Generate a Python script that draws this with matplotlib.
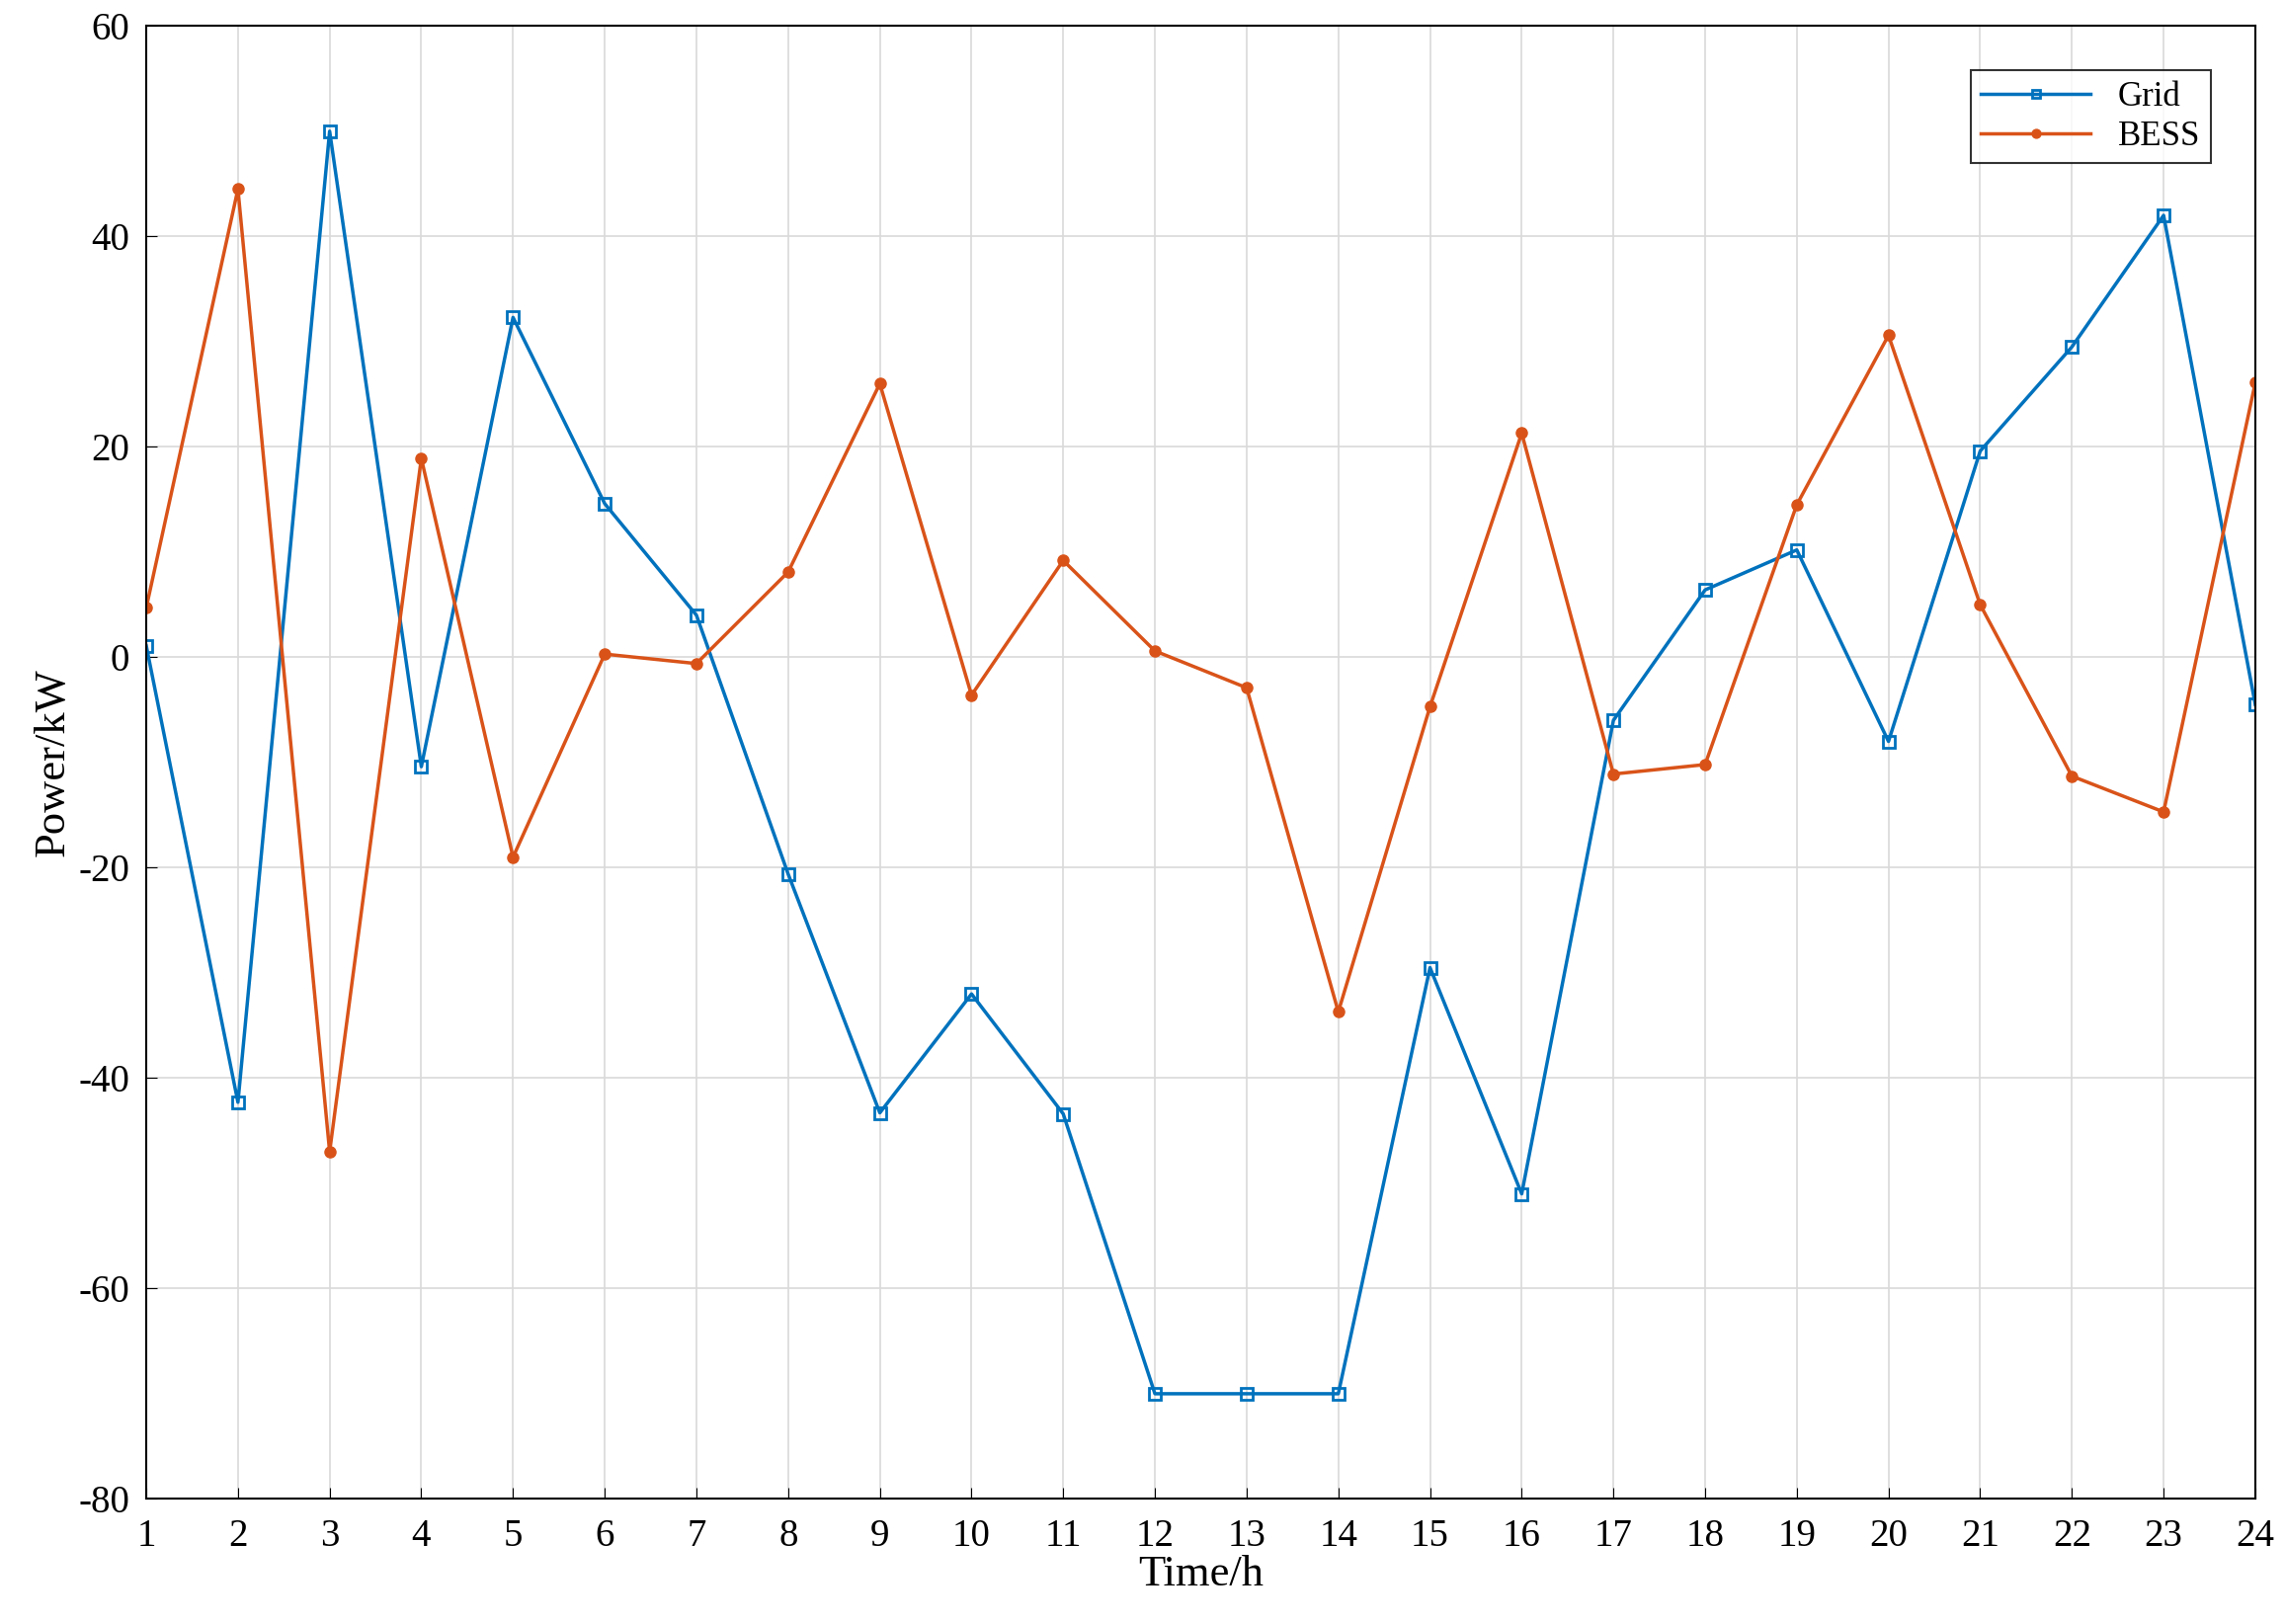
import matplotlib
matplotlib.use("Agg")
import matplotlib.pyplot as plt

hours = list(range(1, 25))
grid = [1.1, -42.3, 50, -10.4, 32.3, 14.6, 4, -20.6, -43.3, -32, -43.4, -70, -70, -70,
        -29.5, -51, -6, 6.4, 10.2, -8, 19.6, 29.5, 42, -4.5]
bess = [4.7, 44.5, -47, 18.9, -19, 0.3, -0.6, 8.1, 26, -3.6, 9.2, 0.6, -2.9, -33.7,
        -4.7, 21.3, -11.1, -10.2, 14.5, 30.6, 5, -11.3, -14.7, 26.1]

plt.rcParams['font.family'] = ['Liberation Serif', 'DejaVu Serif']
plt.rcParams['axes.unicode_minus'] = False
fig = plt.figure(figsize=(23.13, 16.44), dpi=100)
ax = fig.add_axes([0.064, 0.077, 0.923, 0.907])
ax.plot(hours, grid, color='#0072BD', lw=2.5, marker='s', ms=8, mfc='none', mew=2, label='Grid')
ax.plot(hours, bess, color='#D95319', lw=2.5, marker='o', ms=8, label='BESS')
ax.set_xlim(1, 24)
ax.set_ylim(-80, 60)
ax.set_xticks(hours)
ax.set_yticks(range(-80, 61, 20))
ax.grid(True, color='#d9d9d9', lw=1.2)
ax.tick_params(labelsize=28, direction='in', length=8)
ax.tick_params(axis='x', pad=14)
ax.tick_params(axis='y', pad=12)
ax.set_xlabel('Time/h', fontsize=32, labelpad=0)
ax.set_ylabel('Power/kW', fontsize=32, labelpad=4)
for s in ax.spines.values():
    s.set_linewidth(1.5)
leg = ax.legend(loc='upper right', fontsize=25, fancybox=False, edgecolor='black',
                borderaxespad=1.3, handlelength=3.2, labelspacing=0.2, borderpad=0.3,
                markerscale=0.8)
leg.get_frame().set_linewidth(1.5)
fig.savefig('out.png')
